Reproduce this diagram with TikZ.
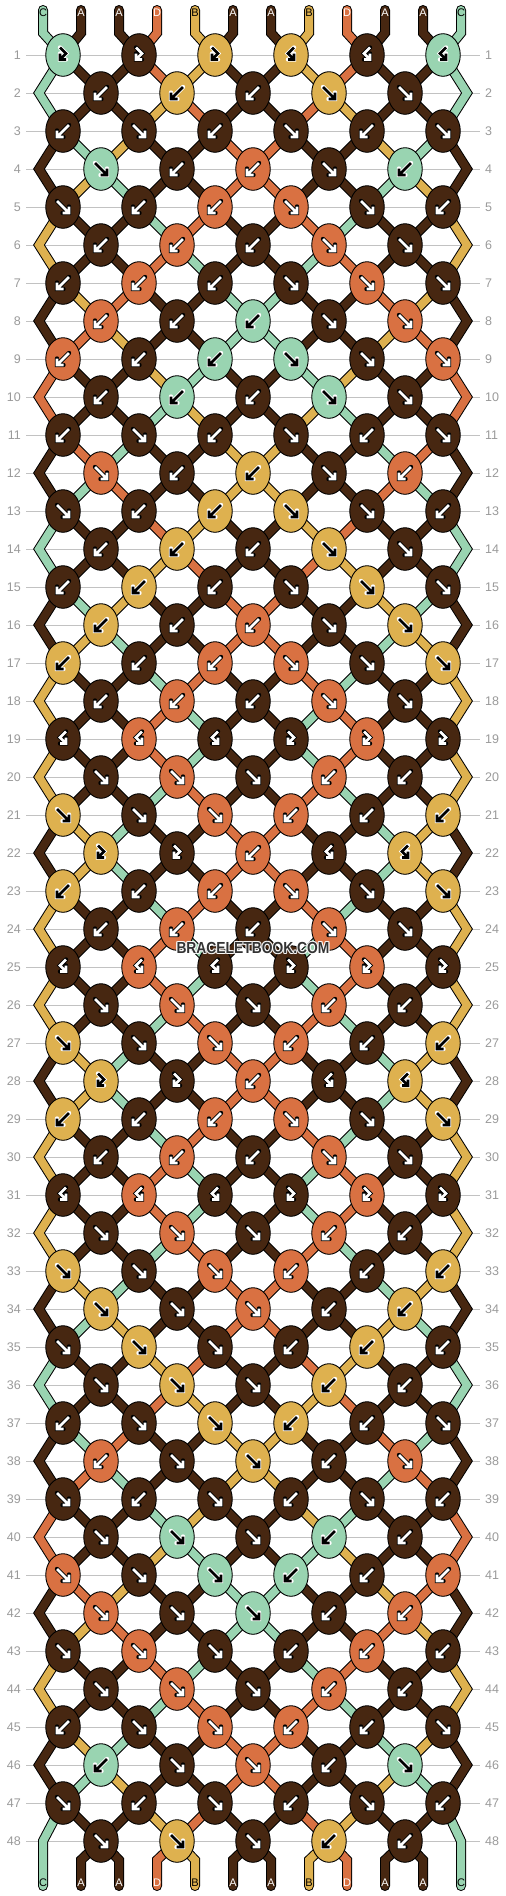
\documentclass[tikz,border=0pt]{standalone}
\usepackage{fontspec}
\setmainfont{Liberation Sans}
\usetikzlibrary{shapes.geometric}
\definecolor{cA}{HTML}{472711}
\definecolor{cB}{HTML}{DEB14F}
\definecolor{cC}{HTML}{99D4B1}
\definecolor{cD}{HTML}{D97142}
\colorlet{tA}{white}\colorlet{tB}{black}\colorlet{tC}{black}\colorlet{tD}{white}
\colorlet{oA}{black}\colorlet{oB}{white}\colorlet{oC}{white}\colorlet{oD}{black}
\definecolor{rowgray}{HTML}{C2C2C2}
\definecolor{numgray}{HTML}{9A9A9A}
\definecolor{wm}{HTML}{333333}
\def\defrow#1#2{\expandafter\def\csname rs#1\endcsname{#2}}
\defrow{1}{f,f,f,b,b,b}
\defrow{2}{B,B,B,F,F}
\defrow{3}{B,F,B,F,B,F}
\defrow{4}{F,B,B,F,B}
\defrow{5}{F,B,B,F,F,B}
\defrow{6}{B,B,B,F,F}
\defrow{7}{B,B,B,F,F,F}
\defrow{8}{B,B,B,F,F}
\defrow{9}{B,B,B,F,F,F}
\defrow{10}{B,B,B,F,F}
\defrow{11}{B,F,B,F,B,F}
\defrow{12}{F,B,B,F,B}
\defrow{13}{F,B,B,F,F,B}
\defrow{14}{B,B,B,F,F}
\defrow{15}{B,B,B,F,F,F}
\defrow{16}{B,B,B,F,F}
\defrow{17}{B,B,B,F,F,F}
\defrow{18}{B,B,B,F,F}
\defrow{19}{b,b,b,f,f,f}
\defrow{20}{F,F,F,B,B}
\defrow{21}{F,F,F,B,B,B}
\defrow{22}{f,f,B,b,b}
\defrow{23}{B,B,B,F,F,F}
\defrow{24}{B,B,B,F,F}
\defrow{25}{b,b,b,f,f,f}
\defrow{26}{F,F,F,B,B}
\defrow{27}{F,F,F,B,B,B}
\defrow{28}{f,f,B,b,b}
\defrow{29}{B,B,B,F,F,F}
\defrow{30}{B,B,B,F,F}
\defrow{31}{b,b,b,f,f,f}
\defrow{32}{F,F,F,B,B}
\defrow{33}{F,F,F,B,B,B}
\defrow{34}{F,F,F,B,B}
\defrow{35}{F,F,F,B,B,B}
\defrow{36}{F,F,F,B,B}
\defrow{37}{B,F,F,B,B,F}
\defrow{38}{B,F,F,B,F}
\defrow{39}{F,B,F,B,F,B}
\defrow{40}{F,F,F,B,B}
\defrow{41}{F,F,F,B,B,B}
\defrow{42}{F,F,F,B,B}
\defrow{43}{F,F,F,B,B,B}
\defrow{44}{F,F,F,B,B}
\defrow{45}{B,F,F,B,B,F}
\defrow{46}{B,F,F,B,F}
\defrow{47}{F,B,F,B,F,B}
\defrow{48}{F,F,F,B,B}
\def\pathF{(-6,-6)--(6,6) (6,-0.5)--(6,6)--(-0.5,6)}
\def\pathB{(6,-6)--(-6,6) (-6,-0.5)--(-6,6)--(0.5,6)}
\def\pathf{(-3,-7.5)--(3,-1.5)--(-3,4.5) (-3,-1.5)--(-3,4.5)--(3,4.5)}
\def\pathb{(3,-7.5)--(-3,-1.5)--(3,4.5) (3,-1.5)--(3,4.5)--(-3,4.5)}
\tikzset{
 knot/.style={ellipse, draw=black, line width=0.9pt, minimum width=34.5pt, minimum height=42.6pt, inner sep=0pt},
 str/.style={draw=black, line width=1pt, double=#1, double distance=8pt, line cap=round, line join=miter},
 arrowout/.style={line width=4.4pt, line cap=round, line join=miter},
 arrowin/.style={line width=2.6pt, line cap=butt, line join=miter},
 gridline/.style={draw=rowgray, line width=1pt},
 rownum/.style={text=numgray, font=\fontsize{12.5}{14}\selectfont, inner sep=0pt},
 strlabel/.style={font=\fontsize{11}{12}\selectfont, inner sep=0pt},
 wmtext/.style={font=\bfseries\fontsize{16}{17}\selectfont, inner sep=0pt, xscale=0.865, transform shape},
}
\begin{document}
\begin{tikzpicture}[x=1pt,y=-1pt]
\useasboundingbox (0,0) rectangle (506,1896);
\fill[white] (0,0) rectangle (506,1896);
% grid lines and row numbers
\foreach \rw in {1,...,48} {
  \pgfmathsetmacro\ky{55+38*(\rw-1)}
  \draw[gridline] (26,\ky) -- (480,\ky);
  \node[rownum, anchor=east] (ln-\rw) at (21,\ky) {\rw};
  \node[rownum, anchor=west] (rn-\rw) at (485,\ky) {\rw};
}
% knot centre coordinates, string ends
\foreach \rw in {1,...,48} {
  \pgfmathtruncatemacro\odd{mod(\rw,2)}
  \pgfmathsetmacro\ky{55+38*(\rw-1)}
  \expandafter\let\expandafter\spec\csname rs\rw\endcsname
  \foreach \ty [count=\kk from 0] in \spec {
    \ifnum\odd=1 \pgfmathsetmacro\kx{63+76*\kk}\else\pgfmathsetmacro\kx{101+76*\kk}\fi
    \coordinate (p-\rw-\kk) at (\kx,\ky);
  }
}
\foreach \i in {0,...,11} {
  \pgfmathsetmacro\xs{43+38*\i}
  \coordinate (ts-\i) at (\xs,10);
  \coordinate (tb-\i) at (\xs,33);
  \coordinate (bs-\i) at (\xs,1886);
}
% initial strings
\foreach \c [count=\i from 0] in {C,A,A,D,B,A,A,B,D,A,A,C} {
  \expandafter\xdef\csname st\i\endcsname{\c}
}
% pass 1: simulate, draw strings, store knot colours
\foreach \rw in {1,...,48} {
  \pgfmathtruncatemacro\odd{mod(\rw,2)}
  \pgfmathtruncatemacro\pr{\rw-1}
  \pgfmathtruncatemacro\ppr{\rw-2}
  \pgfmathsetmacro\ky{55+38*(\rw-1)}
  \pgfmathsetmacro\pky{\ky-38}
  \expandafter\let\expandafter\spec\csname rs\rw\endcsname
  \foreach \ty [count=\kk from 0] in \spec {
    \ifnum\odd=1
      \pgfmathtruncatemacro\li{2*\kk}
    \else
      \pgfmathtruncatemacro\li{2*\kk+1}
    \fi
    \pgfmathtruncatemacro\ri{\li+1}
    \edef\sL{\csname st\li\endcsname}
    \edef\sR{\csname st\ri\endcsname}
    \def\swap{0}
    \if F\ty\edef\kc{\sL}\def\swap{1}\fi
    \if B\ty\edef\kc{\sR}\def\swap{1}\fi
    \if f\ty\edef\kc{\sL}\fi
    \if b\ty\edef\kc{\sR}\fi
    \expandafter\xdef\csname kc-\rw-\kk\endcsname{\kc}
    \ifnum\rw=1
      \draw[str=c\sL] (ts-\li) -- (tb-\li) -- (p-\rw-\kk);
      \draw[str=c\sR] (ts-\ri) -- (tb-\ri) -- (p-\rw-\kk);
    \else
      \ifnum\odd=1
        \ifnum\kk=0
          \draw[str=c\sL] (p-\ppr-0) -- (39,\pky) -- (p-\rw-0);
        \else
          \pgfmathtruncatemacro\kp{\kk-1}
          \draw[str=c\sL] (p-\pr-\kp) -- (p-\rw-\kk);
        \fi
        \ifnum\kk=5
          \draw[str=c\sR] (p-\ppr-5) -- (467,\pky) -- (p-\rw-5);
        \else
          \draw[str=c\sR] (p-\pr-\kk) -- (p-\rw-\kk);
        \fi
      \else
        \pgfmathtruncatemacro\kn{\kk+1}
        \draw[str=c\sL] (p-\pr-\kk) -- (p-\rw-\kk);
        \draw[str=c\sR] (p-\pr-\kn) -- (p-\rw-\kk);
      \fi
    \fi
    \ifnum\swap=1
      \expandafter\xdef\csname st\li\endcsname{\sR}
      \expandafter\xdef\csname st\ri\endcsname{\sL}
    \fi
  }
}
% bottom strings
\foreach \kk in {0,...,4} {
  \pgfmathtruncatemacro\li{2*\kk+1}
  \pgfmathtruncatemacro\ri{2*\kk+2}
  \edef\sL{\csname st\li\endcsname}
  \edef\sR{\csname st\ri\endcsname}
  \pgfmathsetmacro\xa{43+38*\li}
  \pgfmathsetmacro\xb{43+38*\ri}
  \draw[str=c\sL] (p-48-\kk) -- (\xa,1860) -- (bs-\li);
  \draw[str=c\sR] (p-48-\kk) -- (\xb,1860) -- (bs-\ri);
}
\edef\sZ{\csname st0\endcsname}
\edef\sE{\csname st11\endcsname}
\draw[str=c\sZ] (p-47-0) -- (43,1841) -- (bs-0);
\draw[str=c\sE] (p-47-5) -- (461,1841) -- (bs-11);
% pass 2: knots and arrows
\foreach \rw in {1,...,48} {
  \expandafter\let\expandafter\spec\csname rs\rw\endcsname
  \foreach \ty [count=\kk from 0] in \spec {
    \edef\kc{\csname kc-\rw-\kk\endcsname}
    \node[knot, fill=c\kc] (n-\rw-\kk) at (p-\rw-\kk) {};
    \expandafter\let\expandafter\ap\csname path\ty\endcsname
    \begin{scope}[shift={(p-\rw-\kk)}]
      \draw[arrowout, draw=o\kc] \ap;
      \draw[arrowin, draw=t\kc] \ap;
    \end{scope}
  }
}
% string labels
\foreach \c [count=\i from 0] in {C,A,A,D,B,A,A,B,D,A,A,C} {
  \pgfmathsetmacro\xs{43+38*\i}
  \node[strlabel, text=t\c] (top-\i) at (\xs,13) {\c};
}
\foreach \i in {0,...,11} {
  \edef\c{\csname st\i\endcsname}
  \pgfmathsetmacro\xs{43+38*\i}
  \node[strlabel, text=t\c] (bot-\i) at (\xs,1883) {\c};
}
% watermark
\foreach \dx/\dy in {-1/0,1/0,0/-1,0/1,-0.8/-0.8,0.8/0.8,-0.8/0.8,0.8/-0.8} {
  \node[wmtext, text=white, opacity=0.75] at (253+\dx,948+\dy) {BRACELETBOOK.COM};
}
\node[wmtext, text=wm] (wm) at (253,948) {BRACELETBOOK.COM};
\end{tikzpicture}
\end{document}
